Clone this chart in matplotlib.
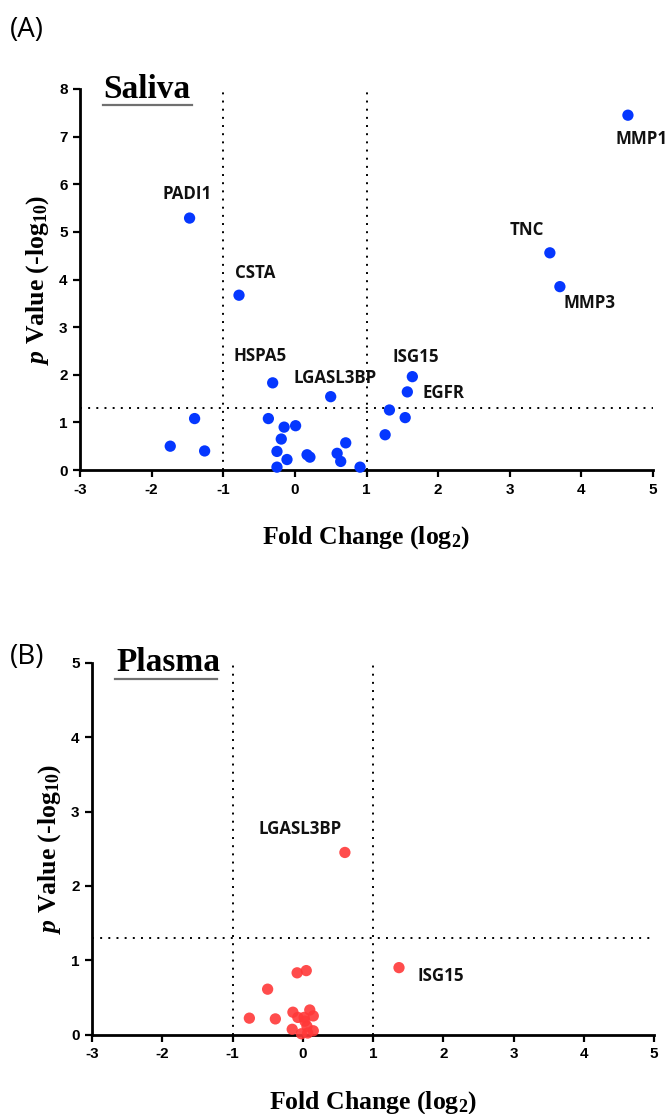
import matplotlib
matplotlib.use("Agg")
import matplotlib.pyplot as plt
from matplotlib.lines import Line2D

# ---------------- data ----------------
saliva_genes = ["MMP1", "TNC", "MMP3", "PADI1", "CSTA", "HSPA5", "LGASL3BP", "ISG15", "EGFR"]
saliva_lab_fc = [4.65, 3.56, 3.70, -1.47, -0.78, -0.31, 0.50, 1.64, 1.57]
saliva_lab_p = [7.45, 4.56, 3.85, 5.29, 3.67, 1.83, 1.54, 1.96, 1.64]
saliva_other_fc = [1.32, 1.54, 1.26, -1.40, -1.74, -1.26, -0.37, -0.15, 0.01, -0.19,
                   -0.25, -0.11, -0.25, 0.17, 0.21, 0.71, 0.59, 0.64, 0.91]
saliva_other_p = [1.26, 1.10, 0.74, 1.08, 0.50, 0.40, 1.08, 0.90, 0.93, 0.65,
                  0.39, 0.22, 0.06, 0.32, 0.27, 0.57, 0.35, 0.18, 0.06]

plasma_genes = ["LGASL3BP", "ISG15"]
plasma_lab_fc = [0.60, 1.37]
plasma_lab_p = [2.45, 0.90]
plasma_other_fc = [-0.08, 0.05, -0.50, -0.76, -0.39, -0.14, -0.07, 0.10, 0.15, 0.03,
                   -0.15, -0.02, 0.15, 0.06, 0.02, 0.07]
plasma_other_p = [0.83, 0.86, 0.61, 0.22, 0.21, 0.30, 0.23, 0.33, 0.25, 0.18,
                  0.07, 0.01, 0.05, 0.11, 0.23, 0.02]

x_ticks = [-3, -2, -1, 0, 1, 2, 3, 4, 5]
saliva_y_ticks = [0, 1, 2, 3, 4, 5, 6, 7, 8]
plasma_y_ticks = [0, 1, 2, 3, 4, 5]
fc_cut = [-1, 1]
p_cut = 1.3

# label text positions (data coords)
saliva_text_pos = {"MMP1": (4.84, 6.95), "TNC": (3.24, 5.04), "MMP3": (4.11, 3.51),
                   "PADI1": (-1.50, 5.79), "CSTA": (-0.55, 4.13), "HSPA5": (-0.49, 2.39),
                   "LGASL3BP": (0.56, 1.93), "ISG15": (1.69, 2.37), "EGFR": (2.08, 1.62)}
plasma_text_pos = {"LGASL3BP": (-0.04, 2.77), "ISG15": (1.96, 0.79)}

# ---------------- style ----------------
plt.rcParams["mathtext.fontset"] = "custom"
plt.rcParams["mathtext.rm"] = "Liberation Serif:bold"
plt.rcParams["mathtext.it"] = "Liberation Serif:italic:bold"
plt.rcParams["mathtext.bf"] = "Liberation Serif:bold"

BLUE = "#0537FF"
RED = "#FF3838"

fig = plt.figure(figsize=(6.71, 11.14), dpi=100)
ax1 = fig.add_axes([80 / 671, 1 - 470 / 1114, 573 / 671, 381 / 1114])
ax2 = fig.add_axes([92 / 671, 1 - 1034.5 / 1114, 562 / 671, 371.5 / 1114])


def style_axes(ax, yticks):
    for s in ["top", "right"]:
        ax.spines[s].set_visible(False)
    for s in ["left", "bottom"]:
        ax.spines[s].set_linewidth(2.0)
    ax.set_xlim(-3, 5)
    ax.set_ylim(0, yticks[-1])
    ax.set_xticks(x_ticks)
    ax.set_yticks(yticks)
    ax.set_xticklabels([str(t) for t in x_ticks])
    ax.set_yticklabels([str(t) for t in yticks])
    ax.tick_params(direction="out", length=5, width=1.6, pad=4)
    for lab in ax.get_xticklabels() + ax.get_yticklabels():
        lab.set_fontfamily("Liberation Sans")
        lab.set_fontweight("bold")
        lab.set_fontsize(11)
    for xv in fc_cut:
        ax.axvline(xv, color="black", linestyle=(0, (1, 3.2)), linewidth=1.4, zorder=1)
    ax.axhline(p_cut, color="black", linestyle=(0, (1, 3.2)), linewidth=1.4, zorder=1)
    ax.set_xlabel("Fold Change (log$_2$)", fontfamily="Liberation Serif",
                  fontweight="bold", fontsize=18.5, labelpad=20)
    ax.set_ylabel(r"$\it{p}$ Value (-log$_{10}$)", fontfamily="Liberation Serif",
                  fontweight="bold", fontsize=18.5, labelpad=6)


style_axes(ax1, saliva_y_ticks)
style_axes(ax2, plasma_y_ticks)

ax1.scatter(saliva_lab_fc + saliva_other_fc, saliva_lab_p + saliva_other_p,
            s=66, color=BLUE, edgecolors="none", zorder=3, clip_on=False)
ax2.scatter(plasma_lab_fc + plasma_other_fc, plasma_lab_p + plasma_other_p,
            s=66, color=RED, alpha=0.9, edgecolors="none", zorder=3, clip_on=False)

for g in saliva_genes:
    tx, ty = saliva_text_pos[g]
    ax1.text(tx, ty, g, ha="center", va="center", fontfamily="Open Sans",
             fontweight="bold", fontsize=12.2, color="#111111")
for g in plasma_genes:
    tx, ty = plasma_text_pos[g]
    ax2.text(tx, ty, g, ha="center", va="center", fontfamily="Open Sans",
             fontweight="bold", fontsize=12.2, color="#111111")

# panel titles with underline
fig.text(103 / 671, 1 - 98 / 1114, "Saliva", fontfamily="Liberation Serif",
         fontweight="bold", fontsize=24, ha="left", va="baseline")
fig.add_artist(Line2D([103 / 671, 192 / 671], [1 - 105 / 1114, 1 - 105 / 1114],
                      color="#707070", linewidth=1.6))
fig.text(116 / 671, 1 - 671 / 1114, "Plasma", fontfamily="Liberation Serif",
         fontweight="bold", fontsize=24, ha="left", va="baseline")
fig.add_artist(Line2D([115 / 671, 217 / 671], [1 - 679 / 1114, 1 - 679 / 1114],
                      color="#707070", linewidth=1.6))

# panel letters
fig.text(27 / 671, 1 - 30 / 1114, "(A)", fontfamily="Open Sans", fontsize=20,
         ha="center", va="center")
fig.text(27 / 671, 1 - 657 / 1114, "(B)", fontfamily="Open Sans", fontsize=20,
         ha="center", va="center")

fig.savefig("out.png", dpi=100)
